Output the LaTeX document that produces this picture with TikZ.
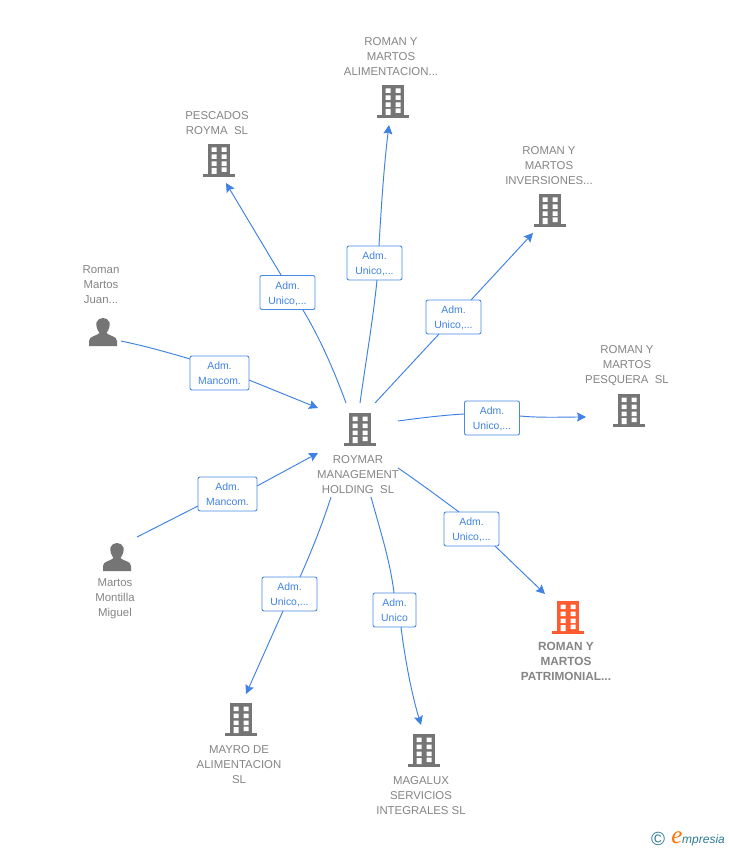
\documentclass[tikz,border=0pt]{standalone}
\usepackage{fontspec}
\setmainfont{Liberation Sans}
\newfontfamily\logoserif{Liberation Serif}
\usetikzlibrary{arrows.meta}
\definecolor{icon}{HTML}{757575}
\definecolor{hot}{HTML}{FF5B2E}
\definecolor{txt}{HTML}{858585}
\definecolor{link}{HTML}{3F82E3}
\definecolor{boxline}{HTML}{4A8AE6}
\definecolor{teal}{HTML}{2F7C92}
\newcommand{\bldshape}[1]{%
  \begin{scope}[shift={(path picture bounding box.center)},x=1pt,y=-1pt]
    \fill[#1] (-11,-17) rectangle (11,13);
    \fill[#1] (-16,13) rectangle (16,16);
    \fill[white] \foreach \yy in {-13.5,-6.5,0.5}{(-7.5,\yy) rectangle (-2.5,{\yy+4.5}) (2.5,\yy) rectangle (7.5,{\yy+4.5})}
      (2.5,6.5) rectangle (7.5,11) (-7.5,7) rectangle (-2.5,13);
  \end{scope}}
\newcommand{\personshape}{%
  \begin{scope}[shift={(path picture bounding box.center)},x=1pt,y=-1pt]
    \fill[icon] (-14,14) -- (-14,9) .. controls (-14,4) and (-6,4) .. (-3.5,1)
      .. controls (-6.5,-3) and (-7,-7) .. (-6.5,-9.5) .. controls (-5,-15.5) and (5,-15.5) .. (6.5,-9.5)
      .. controls (7,-7) and (6.5,-3) .. (3.5,1) .. controls (6,4) and (14,4) .. (14,9) -- (14,14) -- cycle;
  \end{scope}}
\newcommand{\twolines}[2]{\raisebox{-4pt}[0pt][0pt]{#1}\\\raisebox{-4pt}[0pt][0pt]{#2}}
\tikzset{
  bld/.style={minimum width=34pt,minimum height=36pt,inner sep=0pt,path picture={\bldshape{icon}}},
  bldhot/.style={minimum width=34pt,minimum height=36pt,inner sep=0pt,path picture={\bldshape{hot}}},
  person/.style={minimum width=30pt,minimum height=30pt,inner sep=0pt,path picture={\personshape}},
  captxt/.style={text=txt,font=\fontsize{11.4}{15}\selectfont,align=center,inner sep=0pt,yshift=-0.5pt},
  capbold/.style={captxt,font=\fontsize{11.8}{15}\bfseries\selectfont},
  lab/.style={draw=boxline,line width=0.9pt,rounded corners=2pt,fill=white,text=link,
    font=\fontsize{10.4}{15}\selectfont,align=center,inner sep=0pt,minimum height=34pt},
  conn/.style={draw=link,line width=0.95pt},
  arr/.style={conn,-{Stealth[length=9pt,width=9pt,inset=1.5pt]}},
}
\begin{document}
\begin{tikzpicture}[x=1pt,y=-1pt]
\useasboundingbox[fill=white] (0,0) rectangle (728,850);
% nodes
\node[bld] (main) at (360,430) {};
\node[captxt] (mainT) at (358,474.5) {ROYMAR\\MANAGEMENT\\HOLDING\ \ SL};
\node[bld] (pes) at (219,161) {};
\node[captxt] (pesT) at (217,122.5) {PESCADOS\\ROYMA\ \ SL};
\node[bld] (ali) at (393,102) {};
\node[captxt] (aliT) at (391,56) {ROMAN Y\\MARTOS\\ALIMENTACION...};
\node[bld] (inv) at (550,211) {};
\node[captxt] (invT) at (549,165) {ROMAN Y\\MARTOS\\INVERSIONES...};
\node[bld] (psq) at (629,411) {};
\node[captxt] (psqT) at (627,365) {ROMAN Y\\MARTOS\\PESQUERA\ \ SL};
\node[bldhot] (pat) at (568,618) {};
\node[capbold] (patT) at (566,661) {ROMAN Y\\MARTOS\\PATRIMONIAL...};
\node[bld] (mag) at (424,751) {};
\node[captxt] (magT) at (421,795) {MAGALUX\\SERVICIOS\\INTEGRALES SL};
\node[bld] (may) at (241,720) {};
\node[captxt] (mayT) at (239,764) {MAYRO DE\\ALIMENTACION\\SL};
\node[person] (mar) at (117,557) {};
\node[captxt] (marT) at (115,598.5) {Martos\\Montilla\\Miguel};
\node[person] (rom) at (103,332) {};
\node[captxt] (romT) at (101,284.5) {Roman\\Martos\\Juan...};
% connector free ends
\coordinate (s1) at (346,403); \coordinate (e1) at (226,183);
\coordinate (s2) at (360,403); \coordinate (e2) at (389,125);
\coordinate (s3) at (375,403); \coordinate (e3) at (533,233);
\coordinate (s4) at (398,421); \coordinate (e4) at (586,417);
\coordinate (s5) at (398,468); \coordinate (e5) at (545,594);
\coordinate (s6) at (371,497); \coordinate (e6) at (421,725);
\coordinate (s7) at (331,497); \coordinate (e7) at (246,694);
\coordinate (s8) at (137,537); \coordinate (e8) at (318,453);
\coordinate (s9) at (121,341); \coordinate (e9) at (318,408);
% labels
\node[lab,minimum width=55pt] (l1) at (287.5,292.5) {\twolines{Adm.}{Unico,...}};
\node[lab,minimum width=55pt] (l2) at (374.5,263) {\twolines{Adm.}{Unico,...}};
\node[lab,minimum width=55pt] (l3) at (453.5,317) {\twolines{Adm.}{Unico,...}};
\node[lab,minimum width=55pt] (l4) at (492,418) {\twolines{Adm.}{Unico,...}};
\node[lab,minimum width=55pt] (l5) at (471.5,529) {\twolines{Adm.}{Unico,...}};
\node[lab,minimum width=43pt] (l6) at (394.5,610) {\twolines{Adm.}{Unico}};
\node[lab,minimum width=55pt] (l7) at (289.5,594) {\twolines{Adm.}{Unico,...}};
\node[lab,minimum width=59pt] (l8) at (227.5,494) {\twolines{Adm.}{Mancom.}};
\node[lab,minimum width=59pt] (l9) at (219.5,373) {\twolines{Adm.}{Mancom.}};
% connector stubs at the label boxes
\coordinate (a1) at (303,310); \coordinate (b1) at (281,275);
\coordinate (a2) at (377,280); \coordinate (b2) at (379,246);
\coordinate (a3) at (439,334); \coordinate (b3) at (471,300);
\coordinate (a4) at (464,414); \coordinate (b4) at (520,416);
\coordinate (a5) at (459,512); \coordinate (b5) at (495,546);
\coordinate (a6) at (394,593); \coordinate (b6) at (401,627);
\coordinate (a7) at (300,577); \coordinate (b7) at (283,611);
\coordinate (a8) at (198,506); \coordinate (b8) at (257,486);
\coordinate (a9) at (190,359); \coordinate (b9) at (249,380);
% connectors
\path[conn] (s1) .. controls (332,365) and (318,335) .. (a1);
\path[arr] (b1) -- (e1);
\path[conn] (s2) .. controls (366,360) and (373,320) .. (a2);
\path[arr] (b2) .. controls (381,210) and (384,165) .. (e2);
\path[conn] (s3) -- (a3);
\path[arr] (b3) -- (e3);
\path[conn] (s4) .. controls (420,418) and (445,415) .. (a4);
\path[arr] (b4) .. controls (540,418) and (565,417) .. (e4);
\path[conn] (s5) .. controls (420,483) and (440,498) .. (a5);
\path[arr] (b5) -- (e5);
\path[conn] (s6) .. controls (380,530) and (390,560) .. (a6);
\path[arr] (b6) .. controls (405,660) and (412,695) .. (e6);
\path[conn] (s7) .. controls (322,525) and (312,550) .. (a7);
\path[arr] (b7) -- (e7);
\path[conn] (s8) -- (a8);
\path[arr] (b8) -- (e8);
\path[conn] (s9) .. controls (145,346) and (170,353) .. (a9);
\path[arr] (b9) -- (e9);
% logo
\node[text=teal,inner sep=0pt,font=\fontsize{19}{19}\selectfont] (logoC) at (658,839) {©};
\node[text=orange!90!red,inner sep=0pt,font=\logoserif\fontsize{25}{25}\itshape\selectfont] (logoE) at (677,838) {e};
\node[text=teal,inner sep=0pt,anchor=west,font=\fontsize{12}{13}\itshape\selectfont] (logoT) at (682,840) {mpresia};
\end{tikzpicture}
\end{document}
